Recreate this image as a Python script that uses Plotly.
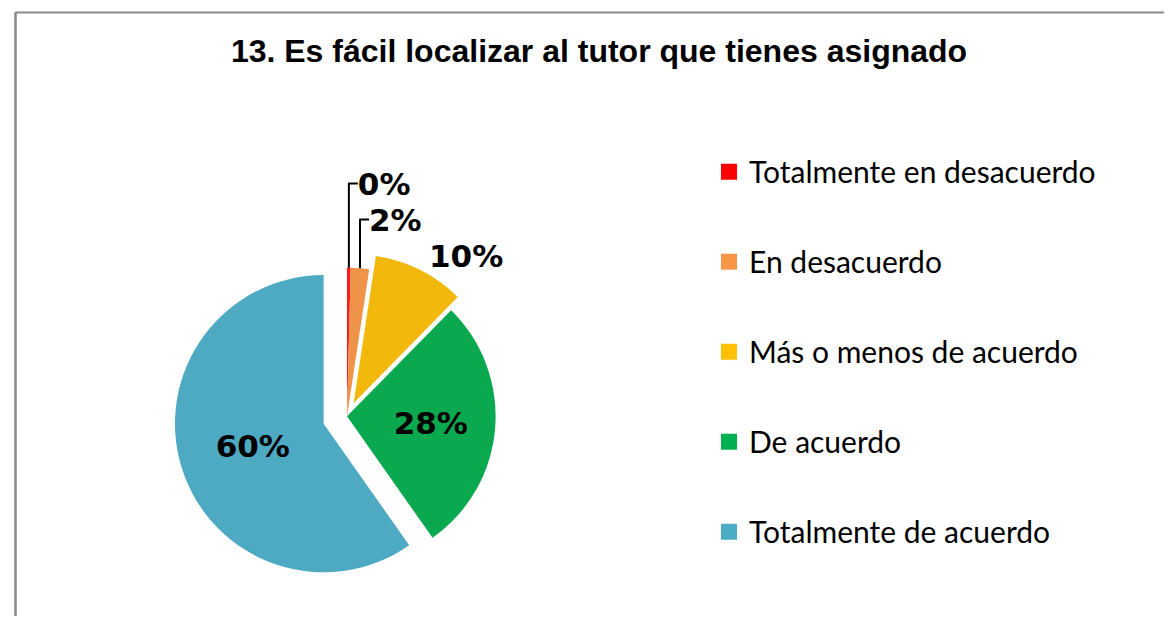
import plotly.graph_objects as go

title_text = "13. Es fácil localizar al tutor que tienes asignado"
categories = ["Totalmente en desacuerdo", "En desacuerdo", "Más o menos de acuerdo",
              "De acuerdo", "Totalmente de acuerdo"]
values = [0.4, 2, 10, 28, 60]
colors = ["#FF0000", "#F79646", "#FFC000", "#00B050", "#4BACC6"]
slice_colors = ["#FF1A1A", "#EE9348", "#F2B80C", "#0AA84F", "#4EA9C3"]
pulls = [0, 0, 0.1, 0, 0.165]
text_pos = ["outside", "outside", "outside", "inside", "inside"]

W, H = 1172, 618
fig = go.Figure()

# pie
cx, cy, half = 339, 415, 176
fig.add_trace(go.Pie(
    labels=categories, values=values, sort=False, direction="clockwise", rotation=0,
    marker=dict(colors=slice_colors, line=dict(width=0)),
    pull=pulls, textposition=text_pos,
    texttemplate="%{percent:.0%}",
    textfont=dict(family="DejaVu Sans", size=31, color="black", weight="bold"),
    insidetextorientation="horizontal",
    showlegend=False, hoverinfo="label+percent",
    domain=dict(x=[(cx - half) / W, (cx + half) / W],
                y=[(H - cy - half) / H, (H - cy + half) / H]),
))

# legend entries
for i, (cat, col) in enumerate(zip(categories, colors)):
    fig.add_trace(go.Scatter(
        x=[None], y=[None], mode="markers", name=cat, legendgroup=f"g{i}",
        marker=dict(symbol="square", size=18, color=col),
    ))

fig.update_layout(
    width=W, height=H,
    margin=dict(l=0, r=0, t=0, b=0),
    paper_bgcolor="white", plot_bgcolor="white",
    title=dict(text=title_text, x=591 / W, xanchor="center", y=1 - 43 / H, yanchor="middle",
               font=dict(family="Liberation Sans", size=32, color="black", weight="bold")),
    xaxis=dict(visible=False), yaxis=dict(visible=False),
    legend=dict(x=701 / W, xanchor="left", y=1 - 140 / H, yanchor="top",
                font=dict(family="Lato", size=30, color="black"),
                tracegroupgap=48, itemsizing="trace", bgcolor="rgba(0,0,0,0)"),
    shapes=[
        dict(type="line", xref="paper", yref="paper", x0=7.5 / W, x1=7.5 / W, y0=0, y1=1 - 4 / H,
             line=dict(color="#898989", width=2.5)),
        dict(type="line", xref="paper", yref="paper", x0=7.5 / W, x1=1, y0=1 - 4.5 / H, y1=1 - 4.5 / H,
             line=dict(color="#898989", width=2)),
    ],
)

fig.write_html("out.html")
